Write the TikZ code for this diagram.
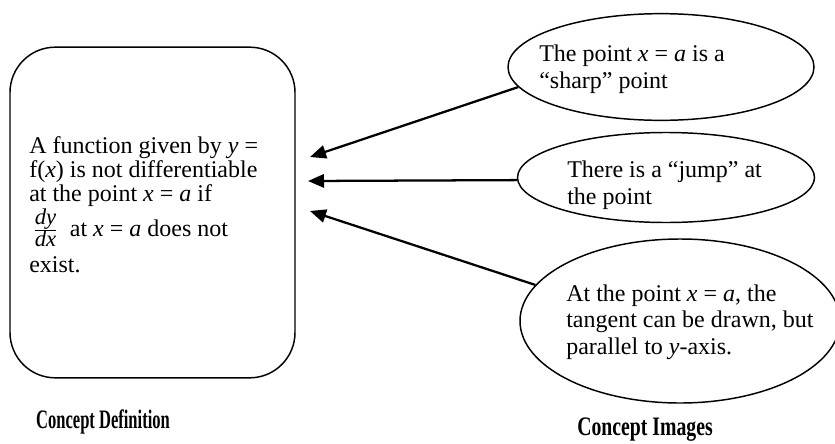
\documentclass[tikz,border=0pt]{standalone}
\usepackage{graphicx}
\usepackage{fontspec}
\setmainfont{Liberation Serif}
\usetikzlibrary{positioning, arrows.meta, shapes.geometric}

\begin{document}
\begin{tikzpicture}[
	x=0.75pt, y=-0.75pt,
	defbox/.style={
		draw,
		line width=1.1pt,
		rounded corners=34pt,
		minimum width=213.75pt,
		minimum height=248pt,
		inner sep=0pt
	},
	deftext/.style={
		align=flush left,
		inner sep=0pt,
		anchor=north west,
		font=\fontsize{18}{18}\selectfont
	},
	imgbox/.style={
		draw,
		ellipse,
		line width=1.1pt,
		inner sep=0pt
	},
	imgtext/.style={
		align=flush left,
		inner sep=0pt,
		anchor=west,
		font=\fontsize{18}{20}\selectfont
	},
	caption/.style={font=\fontsize{20}{22}\selectfont\bfseries},
	arrow/.style={-{Triangle[length=12pt,width=10pt]}, line width=1.7pt}
	]
	\useasboundingbox (0,0) rectangle (835,443);
	
	% ======================
	% Concept definition
	% ======================
	\node (def) [defbox] at (152.5,212.5) {};
	\node (deftext) [deftext] at (29,136)
	{A function given by \textit{y} =\\
	f(\textit{x}) is not differentiable\\
	at the point \textit{x} = \textit{a} if\\[1pt]
	\,$\frac{\textit{\fontsize{17}{17}\selectfont dy}}{\textit{\fontsize{17}{17}\selectfont dx}}$\ \ at \textit{x} = \textit{a} does not\\[6pt]
	exist.};
	
	\node (defcap) [caption] at (103,422) {\scalebox{0.62}[1]{Concept Definition}};
	
	% ======================
	% Concept images
	% ======================
	\node (img1) [imgbox, minimum width=229.5pt, minimum height=80pt] at (661,67) {};
	\node (img2) [imgbox, minimum width=222.75pt, minimum height=67.5pt] at (666,177.5) {};
	\node (img3) [imgbox, minimum width=240pt, minimum height=123pt] at (680,321) {};
	
	\node (img1text) [imgtext] at (539,69)
	{The point \textit{x} = \textit{a} is a\\``sharp'' point};
	\node (img2text) [imgtext] at (567,185)
	{There is a ``jump'' at\\the point};
	\node (img3text) [imgtext] at (566,322)
	{At the point \textit{x} = \textit{a}, the\\tangent can be drawn, but\\parallel to \textit{y}-axis.};
	
	\node (imgcap) [caption] at (645,430) {\scalebox{0.74}[1]{Concept Images}};
	
	% arrows towards the definition
	\coordinate (tip1) at (310,157);
	\coordinate (tip2) at (308,181);
	\coordinate (tip3) at (310,211);
	
	\draw[arrow] (img1.188) -- (tip1);
	\draw[arrow] (img2.181) -- (tip2);
	\draw[arrow] (img3.166) -- (tip3);
	
\end{tikzpicture}
\end{document}
